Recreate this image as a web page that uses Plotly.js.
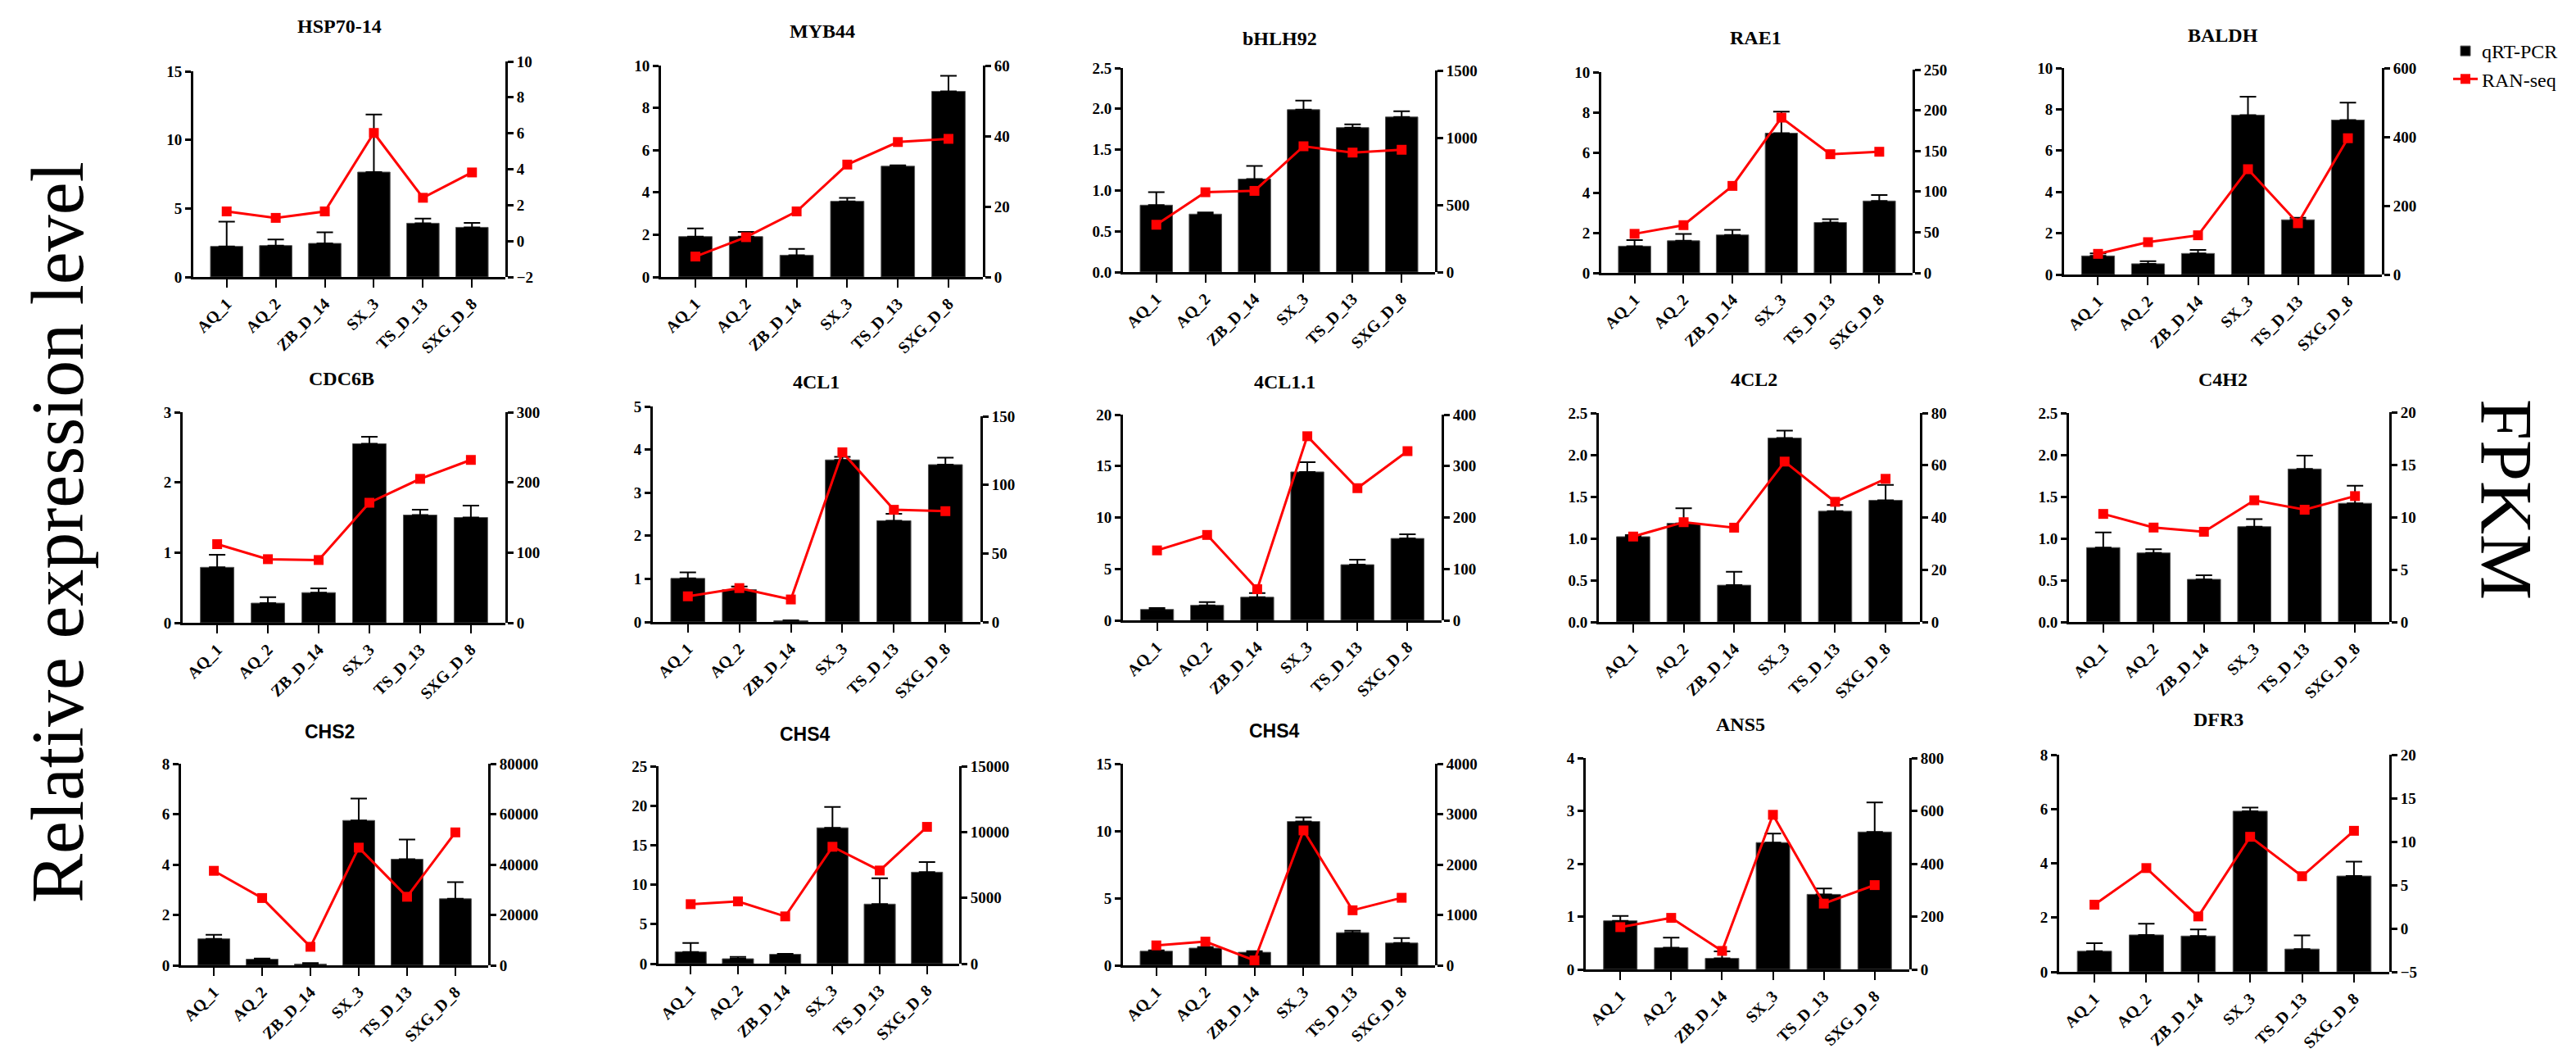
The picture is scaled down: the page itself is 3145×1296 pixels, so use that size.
<!DOCTYPE html>
<html>
<head>
<meta charset="utf-8">
<script src="https://cdn.plot.ly/plotly-3.0.1.min.js"></script>
<style>html,body{margin:0;padding:0;background:#fff;}#chart{width:3145px;height:1296px;}</style>
</head>
<body>
<div id="chart"></div>
<script>
// ---------------- DATA ----------------
const categories = ["AQ_1", "AQ_2", "ZB_D_14", "SX_3", "TS_D_13", "SXG_D_8"];
const geneTitles = ["HSP70-14", "MYB44", "bHLH92", "RAE1", "BALDH",
                    "CDC6B", "4CL1", "4CL1.1", "4CL2", "C4H2",
                    "CHS2", "CHS4", "CHS4", "ANS5", "DFR3"];

const hsp70_qpcr = [2.23, 2.29, 2.45, 7.65, 3.92, 3.62];
const hsp70_err  = [1.8, 0.45, 0.8, 4.2, 0.34, 0.33];
const hsp70_fpkm = [1.65, 1.29, 1.65, 6.02, 2.41, 3.82];

const myb44_qpcr = [1.91, 1.91, 1.03, 3.58, 5.24, 8.78];
const myb44_err  = [0.39, 0.22, 0.30, 0.16, 0.04, 0.74];
const myb44_fpkm = [5.8, 11.3, 18.6, 31.9, 38.3, 39.2];

const bhlh92_qpcr = [0.82, 0.71, 1.14, 1.99, 1.77, 1.90];
const bhlh92_err  = [0.16, 0.02, 0.16, 0.11, 0.04, 0.07];
const bhlh92_fpkm = [352, 594, 604, 936, 889, 910];

const rae1_qpcr = [1.33, 1.60, 1.89, 6.96, 2.51, 3.58];
const rae1_err  = [0.30, 0.34, 0.25, 1.07, 0.16, 0.30];
const rae1_fpkm = [48, 58.7, 107, 191, 146, 149];

const baldh_qpcr = [0.90, 0.52, 1.02, 7.72, 2.65, 7.48];
const baldh_err  = [0.12, 0.12, 0.17, 0.89, 0.10, 0.84];
const baldh_fpkm = [60, 94, 114, 306, 149, 396];

const cdc6b_qpcr = [0.79, 0.28, 0.43, 2.55, 1.535, 1.50];
const cdc6b_err  = [0.18, 0.085, 0.06, 0.10, 0.075, 0.17];
const cdc6b_fpkm = [112, 90.6, 89.4, 171, 205, 232];

const cl1_qpcr = [1.01, 0.75, 0.03, 3.76, 2.35, 3.65];
const cl1_err  = [0.14, 0.07, 0.01, 0.07, 0.16, 0.16];
const cl1_fpkm = [18.7, 24.7, 16.4, 123.7, 81.8, 80.8];

const cl11_qpcr = [1.06, 1.46, 2.25, 14.43, 5.41, 7.96];
const cl11_err  = [0.13, 0.32, 0.40, 0.95, 0.48, 0.40];
const cl11_fpkm = [136, 166, 60.5, 358, 257, 329];

const cl2_qpcr = [1.02, 1.18, 0.44, 2.20, 1.325, 1.455];
const cl2_err  = [0.02, 0.18, 0.16, 0.09, 0.075, 0.185];
const cl2_fpkm = [32.7, 38.2, 36.1, 61.4, 46.0, 54.8];

const c4h2_qpcr = [0.89, 0.826, 0.51, 1.14, 1.83, 1.42];
const c4h2_err  = [0.18, 0.044, 0.05, 0.09, 0.16, 0.21];
const c4h2_fpkm = [10.3, 9.0, 8.6, 11.6, 10.7, 12.0];

const chs2_qpcr = [1.05, 0.24, 0.05, 5.75, 4.21, 2.64];
const chs2_err  = [0.16, 0.03, 0.04, 0.87, 0.78, 0.66];
const chs2_fpkm = [37500, 26700, 7350, 46700, 27200, 52750];

const chs4a_qpcr = [1.49, 0.62, 1.18, 17.2, 7.54, 11.58];
const chs4a_err  = [1.14, 0.24, 0.06, 2.65, 3.28, 1.28];
const chs4a_fpkm = [4520, 4730, 3590, 8880, 7075, 10390];

const chs4b_qpcr = [1.05, 1.28, 0.97, 10.70, 2.43, 1.66];
const chs4b_err  = [0.06, 0.08, 0.08, 0.30, 0.14, 0.37];
const chs4b_fpkm = [395, 470, 97, 2676, 1092, 1340];

const ans5_qpcr = [0.92, 0.41, 0.21, 2.40, 1.42, 2.60];
const ans5_err  = [0.09, 0.19, 0.13, 0.17, 0.11, 0.56];
const ans5_fpkm = [160, 195, 70, 585, 249, 319];

const dfr3_qpcr = [0.76, 1.36, 1.32, 5.92, 0.84, 3.53];
const dfr3_err  = [0.30, 0.41, 0.24, 0.13, 0.50, 0.53];
const dfr3_fpkm = [2.73, 6.95, 1.38, 10.55, 6.01, 11.24];

const qpcrSeries = [hsp70_qpcr, myb44_qpcr, bhlh92_qpcr, rae1_qpcr, baldh_qpcr,
                    cdc6b_qpcr, cl1_qpcr, cl11_qpcr, cl2_qpcr, c4h2_qpcr,
                    chs2_qpcr, chs4a_qpcr, chs4b_qpcr, ans5_qpcr, dfr3_qpcr];
const errSeries  = [hsp70_err, myb44_err, bhlh92_err, rae1_err, baldh_err,
                    cdc6b_err, cl1_err, cl11_err, cl2_err, c4h2_err,
                    chs2_err, chs4a_err, chs4b_err, ans5_err, dfr3_err];
const fpkmSeries = [hsp70_fpkm, myb44_fpkm, bhlh92_fpkm, rae1_fpkm, baldh_fpkm,
                    cdc6b_fpkm, cl1_fpkm, cl11_fpkm, cl2_fpkm, c4h2_fpkm,
                    chs2_fpkm, chs4a_fpkm, chs4b_fpkm, ans5_fpkm, dfr3_fpkm];

// ---------------- AXIS SCALES ----------------
// [leftMin, leftMax, leftDtick, rightMin, rightMax, rightDtick]
const axisScales = [
  [0, 15, 5, -2, 10, 2], [0, 10, 2, 0, 60, 20], [0, 2.5, 0.5, 0, 1500, 500],
  [0, 10, 2, 0, 250, 50], [0, 10, 2, 0, 600, 200],
  [0, 3, 1, 0, 300, 100], [0, 5, 1, 0, 150, 50], [0, 20, 5, 0, 400, 100],
  [0, 2.5, 0.5, 0, 80, 20], [0, 2.5, 0.5, 0, 20, 5],
  [0, 8, 2, 0, 80000, 20000], [0, 25, 5, 0, 15000, 5000], [0, 15, 5, 0, 4000, 1000],
  [0, 4, 1, 0, 800, 200], [0, 8, 2, -5, 20, 5]
];

// ---------------- LAYOUT GEOMETRY (pixels) ----------------
// [left, right, baseline, topLeftAxis, topRightAxis, titleX, titleY]
const W = 3145, H = 1296;
const boxes = [
  [236, 617, 338, 87, 75, 414, 32], [807, 1200, 338, 80, 80, 1004, 38],
  [1371, 1752, 332, 83, 86, 1562, 47], [1955, 2335, 333, 88, 85, 2143, 46],
  [2520, 2908, 335, 83, 83, 2714, 43],
  [223, 617, 760, 503, 503, 417, 462], [797, 1197, 759, 496, 508, 996, 466],
  [1371, 1760, 757, 506, 506, 1568, 466], [1952, 2344, 759, 504, 504, 2141, 463],
  [2526, 2917, 759, 504, 503, 2714, 463],
  [221, 596, 1178, 932, 932, 402, 893], [804, 1171, 1176, 935, 935, 983, 896],
  [1371, 1752, 1178, 932, 932, 1556, 892], [1936, 2331, 1183, 925, 925, 2125, 884],
  [2514, 2917, 1186, 921, 921, 2708, 878]
];
const sansTitles = [10, 11, 12];

const SERIF = "Liberation Serif";
const SANS = "Liberation Sans";

const traces = [];
const layout = {
  width: W, height: H,
  margin: {l: 0, r: 0, t: 0, b: 0},
  paper_bgcolor: "#ffffff",
  plot_bgcolor: "rgba(0,0,0,0)",
  bargap: 0.34,
  showlegend: true,
  legend: {
    x: 2990 / W, y: 1 - 40 / H, xanchor: "left", yanchor: "top",
    font: {family: SERIF, size: 24, color: "#000"},
    bgcolor: "rgba(0,0,0,0)", itemwidth: 30, tracegroupgap: 0
  },
  annotations: [],
  font: {family: SERIF, color: "#000"}
};

function yTickFont() { return {family: SERIF, size: 19, color: "#000", weight: "bold"}; }

for (let i = 0; i < 15; i++) {
  const xName = i === 0 ? "x" : "x" + (i + 1);
  const yl = 2 * i + 1, yr = 2 * i + 2;
  const ylName = yl === 1 ? "y" : "y" + yl;
  const yrName = "y" + yr;
  const b = boxes[i];
  const s = axisScales[i];

  traces.push({
    type: "bar", x: categories, y: qpcrSeries[i],
    xaxis: xName, yaxis: ylName,
    name: "qRT-PCR", legendgroup: "q", showlegend: i === 0,
    marker: {color: "#000000", line: {color: "#555555", width: 1}},
    error_y: {type: "data", symmetric: false, array: errSeries[i],
              arrayminus: errSeries[i].map(() => 0),
              color: "#000", thickness: 2, width: 10}
  });
  traces.push({
    type: "scatter", mode: "lines+markers", x: categories, y: fpkmSeries[i],
    xaxis: xName, yaxis: yrName, cliponaxis: false,
    name: "RAN-seq", legendgroup: "r", showlegend: i === 0,
    line: {color: "#ff0000", width: 3},
    marker: {symbol: "square", size: 12, color: "#ff0000"}
  });

  layout[i === 0 ? "xaxis" : "xaxis" + (i + 1)] = {
    domain: [b[0] / W, b[1] / W], anchor: ylName,
    type: "category", range: [-0.68, 5.68],
    showline: true, linewidth: 3, linecolor: "#000",
    ticks: "outside", ticklen: 10, tickwidth: 2, tickcolor: "#000",
    tickangle: -45,
    tickfont: {family: SERIF, size: 20, color: "#000", weight: "bold"},
    showgrid: false, zeroline: false, fixedrange: true
  };
  const common = {
    showline: true, linewidth: 3, linecolor: "#000",
    ticks: "outside", ticklen: 7, tickwidth: 3, tickcolor: "#000",
    tickfont: yTickFont(), showgrid: false, zeroline: false, fixedrange: true,
    anchor: xName
  };
  layout[yl === 1 ? "yaxis" : "yaxis" + yl] = Object.assign({}, common, {
    domain: [1 - b[2] / H, 1 - b[3] / H],
    range: [s[0], s[1]], tick0: s[0], dtick: s[2],
    tickformat: (s[2] < 1) ? ".1f" : "d", side: "left"
  });
  layout["yaxis" + yr] = Object.assign({}, common, {
    domain: [1 - b[2] / H, 1 - b[4] / H],
    range: [s[3], s[4]], tick0: s[3], dtick: s[5],
    tickformat: "d", side: "right"
  });

  const isSans = sansTitles.indexOf(i) >= 0;
  layout.annotations.push({
    text: geneTitles[i], xref: "paper", yref: "paper",
    x: b[5] / W, y: 1 - b[6] / H, xanchor: "center", yanchor: "middle",
    showarrow: false,
    font: {family: isSans ? SANS : SERIF, size: isSans ? 23 : 24, color: "#000", weight: "bold"}
  });
}

layout.annotations.push({
  text: "Relative expression level", xref: "paper", yref: "paper",
  x: 70 / W, y: 1 - 650 / H, xanchor: "center", yanchor: "middle",
  textangle: -90, showarrow: false,
  font: {family: SERIF, size: 90, color: "#000"}
});
layout.annotations.push({
  text: "FPKM", xref: "paper", yref: "paper",
  x: 3060 / W, y: 1 - 609 / H, xanchor: "center", yanchor: "middle",
  textangle: 90, showarrow: false,
  font: {family: SERIF, size: 90, color: "#000"}
});

Plotly.newPlot("chart", traces, layout, {displayModeBar: false, staticPlot: true});
</script>
</body>
</html>
